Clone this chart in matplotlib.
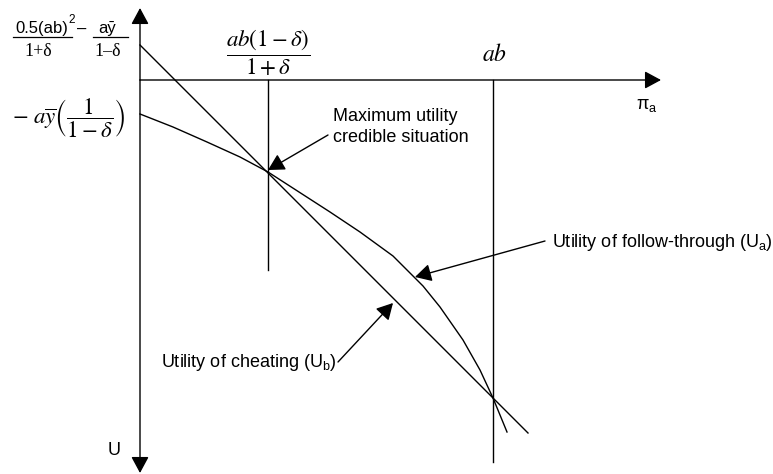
import matplotlib.pyplot as plt
import numpy as np

plt.rcParams["font.family"] = ["Liberation Sans", "DejaVu Sans"]
plt.rcParams["mathtext.fontset"] = "stix"

fs = 13

# payoff axis positions (pi_a) and the two reference levels
pi_marks = [128, 353]
mark_bottoms = [-190, -382]

# utility of cheating: straight line
cheat_x = np.array([0, 388])
cheat_y = np.array([35, -353])

# utility of follow-through: concave curve
follow_x = np.array([0, 33, 67, 100, 128, 190, 220, 253, 283, 300, 323, 340, 353, 367])
follow_y = np.array([-34, -47, -62, -77, -92, -132, -152, -176, -206, -227, -260, -290, -318, -352])

fig = plt.figure(figsize=(7.73, 4.74), dpi=100)
ax = fig.add_axes([0, 0, 1, 1])
ax.set_xlim(-140, 633)
ax.set_ylim(-394, 80)
ax.axis("off")

lw = 1.0
head = dict(arrowstyle="-|>,head_length=0.5,head_width=0.27", mutation_scale=20,
            color="k", lw=lw, shrinkA=0, shrinkB=0)

# axes with arrow heads
ax.annotate("", xy=(0, 72), xytext=(0, 0), arrowprops=head)
ax.annotate("", xy=(0, -393), xytext=(0, 0), arrowprops=head)
ax.annotate("", xy=(521, 0), xytext=(0, 0), arrowprops=head)

for xm, yb in zip(pi_marks, mark_bottoms):
    ax.plot([xm, xm], [0, yb], color="k", lw=lw)

ax.plot(cheat_x, cheat_y, color="k", lw=lw)
ax.plot(follow_x, follow_y, color="k", lw=lw)

# annotations pointing at the curves
ptr = dict(arrowstyle="-|>,head_length=0.55,head_width=0.3", mutation_scale=18,
           color="k", lw=lw, shrinkA=0, shrinkB=0)
ax.annotate("", xy=(pi_marks[0], -90), xytext=(188, -55), arrowprops=ptr)
ax.text(193, -28, "Maximum utility\ncredible situation", fontsize=fs,
        ha="left", va="top", linespacing=1.3)

ax.annotate("", xy=(275, -197), xytext=(405, -161), arrowprops=ptr)
ax.text(412, -163, r"Utility of follow-through (U$\mathregular{_a}$)", fontsize=fs,
        ha="left", va="center")

ax.annotate("", xy=(253, -223), xytext=(198, -282), arrowprops=ptr)
ax.text(197, -283, r"Utility of cheating (U$\mathregular{_b}$)", fontsize=fs,
        ha="right", va="center")

# axis labels
ax.text(-26, -371, "U", fontsize=fs, ha="center", va="center")
ax.text(507, -25, r"π$\mathregular{_a}$", fontsize=fs, ha="center", va="center")

# tick labels along pi_a
ax.text(pi_marks[1] + 2, 25, r"$ab$", fontsize=17, ha="center", va="center")
ax.text(pi_marks[0], 27, r"$\dfrac{ab(1-\delta)}{1+\delta}$", fontsize=16.5,
        ha="center", va="center")

# tick labels along U
ax.text(-71, -38, r"$-\ a\overline{y}\left(\dfrac{1}{1-\delta}\right)$", fontsize=16.5,
        ha="center", va="center")

# intercept of the cheating line
ax.text(-72, 52, "0.5(ab)", fontsize=12, ha="right", va="center")
ax.text(-72, 60, "2", fontsize=8.5, ha="left", va="center")
ax.plot([-127, -68], [43, 43], color="k", lw=0.9)
ax.text(-102, 29, "1+δ", fontsize=13, family="Liberation Serif", ha="center", va="center")
ax.text(-58, 51, "\u2013", fontsize=12, ha="center", va="center")
ax.text(-33, 52, "a\u0233", fontsize=12, ha="center", va="center",
        family=["Liberation Sans", "DejaVu Sans"])
ax.plot([-47, -12], [43, 43], color="k", lw=0.9)
ax.text(-32, 29, "1\u2013δ", fontsize=13, family="Liberation Serif", ha="center", va="center")

fig.savefig("out.png", dpi=100)
